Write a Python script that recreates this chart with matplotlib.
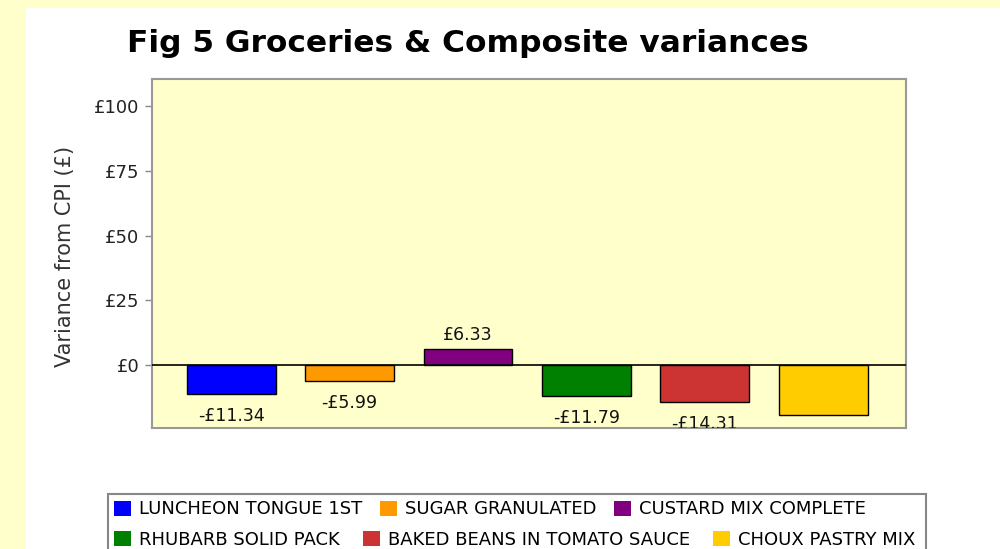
import matplotlib.pyplot as plt
from matplotlib.patches import Rectangle, Patch

# Data
items = ['LUNCHEON TONGUE 1ST', 'SUGAR GRANULATED', 'CUSTARD MIX COMPLETE',
         'RHUBARB SOLID PACK', 'BAKED BEANS IN TOMATO SAUCE', 'CHOUX PASTRY MIX']
variance = [-11.34, -5.99, 6.33, -11.79, -14.31, -19.2]
colors = ['#0000FF', '#FF9900', '#800080', '#008000', '#CC3333', '#FFCC00']
yticks = [0, 25, 50, 75, 100]

fig = plt.figure(figsize=(10, 5.49), dpi=100, facecolor='#FFFFCC')

# white panel behind the chart
fig.patches.append(Rectangle((0.026, 0), 1.0, 0.9854, transform=fig.transFigure,
                             facecolor='white', edgecolor='none', zorder=0))

ax = fig.add_axes([0.152, 0.2204, 0.754, 0.6357])
ax.set_zorder(1)
ax.set_facecolor('#FFFFCC')

x = range(len(items))
ax.bar(x, variance, width=0.75, color=colors, edgecolor='black', linewidth=1, zorder=3)
ax.axhline(0, color='black', linewidth=1.2, zorder=4)

# value labels
for xi, v in zip(x, variance):
    if v < 0:
        txt = '-£%.2f' % abs(v)
        off = -22
    else:
        txt = '£%.2f' % v
        off = 14
    ax.annotate(txt, (xi, v), xytext=(0, off), textcoords='offset pixels',
                ha='center', va='center', fontsize=12.5, color='#111111',
                clip_on=True, zorder=5)

ax.set_xlim(-0.67, 5.7)
ax.set_ylim(-24.3, 110.5)
ax.set_xticks([])
ax.set_yticks(yticks)
ax.set_yticklabels(['£%d' % t for t in yticks])
ax.tick_params(axis='y', direction='out', length=5, width=1, color='#888888',
               labelsize=13, labelcolor='#222222', pad=4)
for s in ax.spines.values():
    s.set_color('#999999')
    s.set_linewidth(1.5)

fig.text(0.065, 0.532, 'Variance from CPI (£)', rotation=90, ha='center', va='center',
         fontsize=15, color='#333333')
fig.text(0.127, 0.905, 'Fig 5 Groceries & Composite variances', ha='left', va='baseline',
         fontsize=22.5, fontweight='bold', color='black')

# legend: two rows in a shared frame
fig.patches.append(Rectangle((0.108, -0.1), 0.818, 0.2002, transform=fig.transFigure,
                             facecolor='white', edgecolor='#888888', linewidth=1.5, zorder=1))
handles = [Patch(facecolor=c, edgecolor='none') for c in colors]
rows = [(handles[:3], items[:3], 0.0720, 1.0), (handles[3:], items[3:], 0.0173, 1.3)]
for h, l, yy, cs in rows:
    leg = fig.legend(h, l, ncol=3, loc='center left', bbox_to_anchor=(0.114, yy),
                     frameon=False, fontsize=13.0, borderpad=0, borderaxespad=0,
                     handlelength=0.92, handleheight=0.92, handletextpad=0.45,
                     columnspacing=cs)
    leg.set_zorder(2)

fig.savefig('out.png', dpi=100, facecolor=fig.get_facecolor())
